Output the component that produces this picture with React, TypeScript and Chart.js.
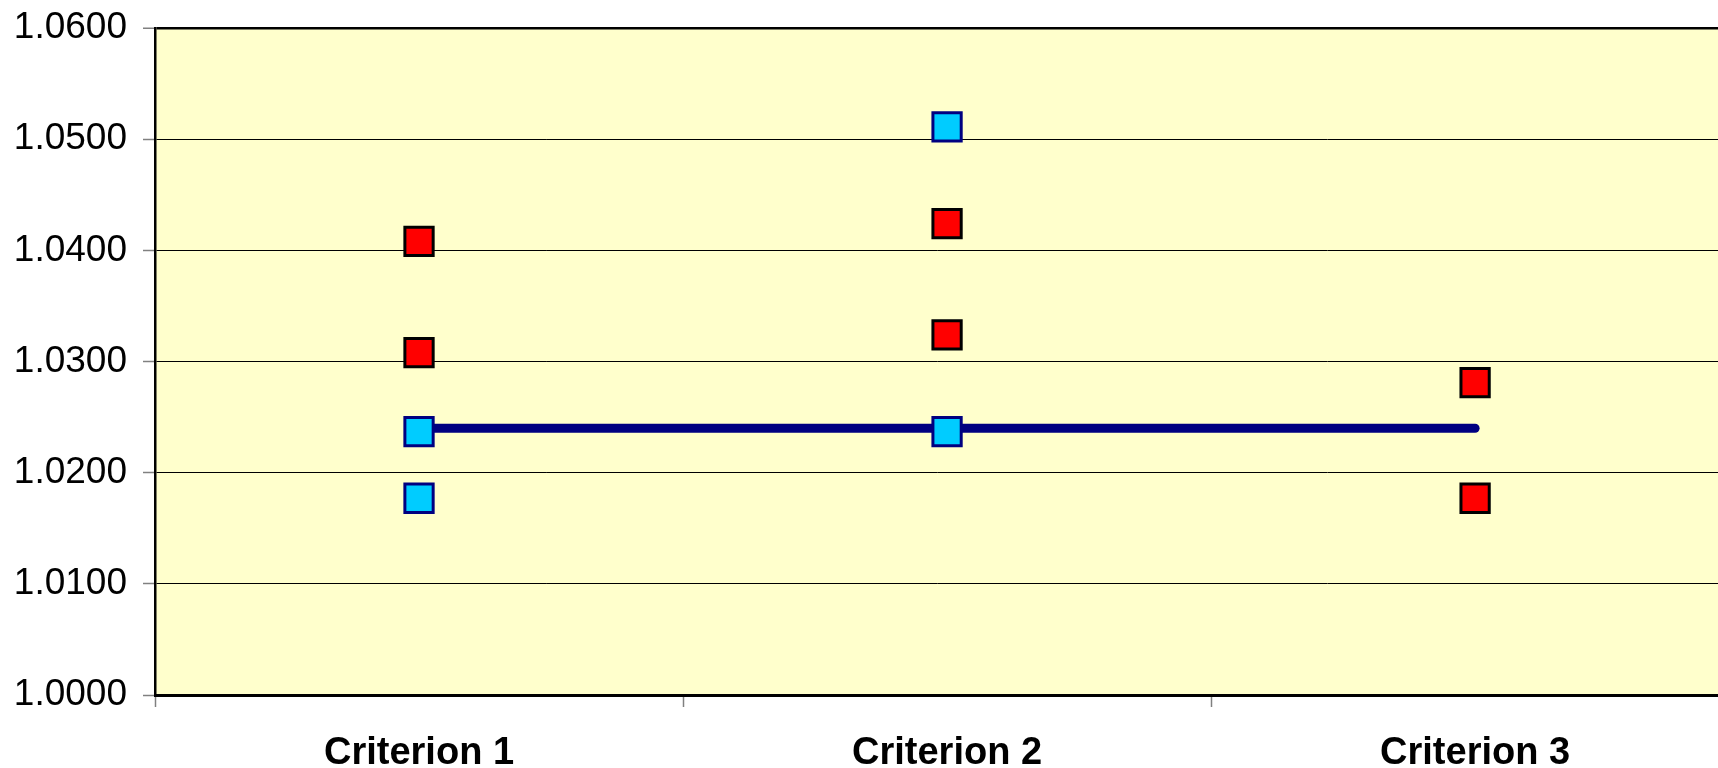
import React, { useEffect, useRef } from "react";
import { Chart, registerables } from "chart.js";

Chart.register(...registerables);

const categories = ["Criterion 1", "Criterion 2", "Criterion 3"];
const redHigh = [1.0408, 1.0424, 1.0281];
const redLow = [1.0308, 1.0324, 1.0177];
const cyanHigh = [1.0237, 1.0511, null];
const cyanLow = [1.0177, 1.0237, null];
const refLine = [1.024, 1.024, 1.024];
const yMin = 1.0;
const yMax = 1.06;
const yStep = 0.01;
// visible x extent in category units (plot is cut off at the right edge)
const xMin = -0.5;
const xMax = 2.46;

const FONT = "'Liberation Sans', Arial, Helvetica, sans-serif";

const toPoints = (vals: (number | null)[]) =>
  vals.map((v, i) => ({ x: i, y: v })).filter((p) => p.y !== null);

const zeroPad = (s: any) => {
  s.paddingLeft = 0;
  s.paddingRight = 0;
  s.paddingTop = 0;
  s.paddingBottom = 0;
};

const bgPlugin = {
  id: "plotBg",
  beforeDraw(chart: any) {
    const { ctx, chartArea } = chart;
    if (!chartArea) return;
    ctx.save();
    ctx.fillStyle = "#FFFFCC";
    ctx.fillRect(chartArea.left, chartArea.top, chartArea.right - chartArea.left, chartArea.bottom - chartArea.top);
    ctx.restore();
  },
};

export default function App() {
  const ref = useRef<HTMLCanvasElement | null>(null);
  useEffect(() => {
    if (!ref.current) return;
    const squares = (vals: (number | null)[], fill: string, border: string) => ({
      type: "line" as const,
      data: toPoints(vals),
      showLine: false,
      pointStyle: "rect",
      pointRadius: 20,
      pointHoverRadius: 20,
      pointBackgroundColor: fill,
      pointBorderColor: border,
      pointBorderWidth: 3,
      backgroundColor: fill,
      borderColor: border,
      order: 0,
    });
    const chart = new Chart(ref.current, {
      type: "line",
      data: {
        datasets: [
          {
            data: toPoints(refLine),
            borderColor: "#000080",
            borderWidth: 9,
            borderCapStyle: "round",
            pointRadius: 0,
            pointHoverRadius: 0,
            fill: false,
            order: 10,
          } as any,
          squares(cyanLow, "#00CCFF", "#000080"),
          squares(cyanHigh, "#00CCFF", "#000080"),
          squares(redLow, "#FF0000", "#000000"),
          squares(redHigh, "#FF0000", "#000000"),
        ],
      },
      options: {
        responsive: false,
        animation: false,
        layout: { autoPadding: false, padding: { top: 28, left: 0, right: 0, bottom: 0 } },
        plugins: { legend: { display: false }, tooltip: { enabled: false } },
        scales: {
          x: {
            type: "linear",
            position: "bottom",
            weight: 0,
            min: xMin,
            max: xMax,
            afterFit: (s: any) => {
              s.height = 0;
              zeroPad(s);
            },
            afterBuildTicks: (s: any) => {
              s.ticks = categories.map((_, i) => ({ value: i - 0.5 }));
            },
            grid: {
              drawOnChartArea: false,
              drawTicks: true,
              tickLength: 12,
              tickColor: "#808080",
              tickWidth: 1.5,
            },
            border: { display: true, color: "#000000", width: 3 },
            ticks: { display: false },
          },
          xLabels: {
            type: "linear",
            position: "bottom",
            weight: 1,
            min: xMin,
            max: xMax,
            afterFit: (s: any) => {
              s.height = 73;
              zeroPad(s);
            },
            afterBuildTicks: (s: any) => {
              s.ticks = categories.map((_, i) => ({ value: i }));
            },
            grid: { display: false, drawTicks: false },
            border: { display: false },
            ticks: {
              autoSkip: false,
              color: "#000000",
              padding: 36,
              maxRotation: 0,
              font: { family: FONT, size: 38, weight: "bold" },
              callback: (v: any) => categories[Math.round(Number(v))] ?? "",
            },
          },
          y: {
            min: yMin,
            max: yMax,
            afterFit: (s: any) => {
              s.width = 155;
              zeroPad(s);
            },
            grid: {
              color: "#000000",
              lineWidth: (c: any) => (c.index === 6 ? 2.5 : 1),
              drawTicks: true,
              tickLength: 12,
              tickColor: "#808080",
              tickWidth: 1.5,
            },
            border: { display: true, color: "#000000", width: 2.5 },
            ticks: {
              stepSize: yStep,
              color: "#000000",
              padding: 16,
              font: { family: FONT, size: 37 },
              callback: (v: any) => Number(v).toFixed(4),
            },
          },
        },
      },
      plugins: [bgPlugin],
    } as any);
    return () => chart.destroy();
  }, []);
  return (
    <div style={{ position: "fixed", left: 0, top: 0, width: 1718, height: 768, overflow: "hidden", background: "#fff" }}>
      <canvas ref={ref} width={1718} height={768} style={{ display: "block" }} />
    </div>
  );
}
